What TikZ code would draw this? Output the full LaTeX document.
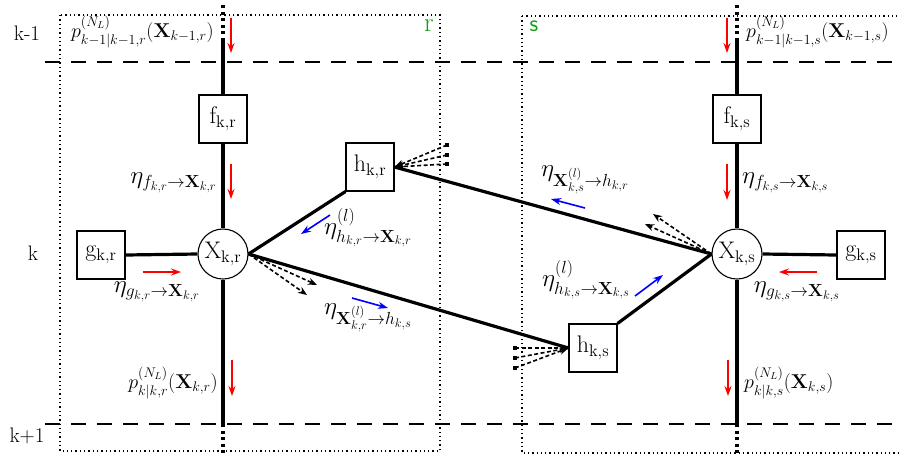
\RequirePackage{fix-cm}
\documentclass[tikz,border=0pt]{standalone}
\usepackage{amsmath}
\usetikzlibrary{arrows.meta}
\newcommand\mynodefont{\fontsize{24}{28}\selectfont}
\newcommand\myktextfont{\fontsize{21}{25}\selectfont}
\newcommand\mylblfont{\fontsize{20}{24}\selectfont}
\newcommand\myetafont{\fontsize{25}{29}\selectfont}
\definecolor{grn}{RGB}{20,160,20}
\begin{document}
\begin{tikzpicture}[x=1pt,y=-1pt,
  box/.style={draw,line width=1.1pt,fill=white,minimum size=48pt,inner sep=0pt,font=\mynodefont},
  var/.style={draw,circle,line width=1.1pt,fill=white,minimum size=50pt,inner sep=0pt,font=\mynodefont},
  thickline/.style={line width=3.2pt},
  dotext/.style={line width=3.2pt,dash pattern=on 3pt off 3.5pt},
  region/.style={line width=1.3pt,dash pattern=on 1.3pt off 3pt},
  timeline/.style={line width=1.3pt,dash pattern=on 15pt off 11pt},
  redarr/.style={red,line width=1.6pt,-{Stealth[length=10pt,width=7pt]}},
  bluearr/.style={blue,line width=1.6pt,-{Stealth[length=10pt,width=7pt]}},
  fan/.style={line width=1.6pt,dash pattern=on 4pt off 2.5pt,-{Stealth[length=9pt,width=7pt]}},
  lbl/.style={font=\mylblfont,inner sep=0pt},
  etalbl/.style={font=\myetafont,inner sep=0pt},
  ktext/.style={font=\myktextfont,inner sep=0pt}]
\useasboundingbox (0,0) rectangle (899,456);
% regions
\draw[region] (60,15) rectangle (440,451);
\draw[region] (522,16) -- (899,16);
\draw[region] (522,16) -- (522,453) -- (899,453);
\node[inner sep=0pt,text=grn,font=\fontsize{27}{30}\selectfont] (rlab) at (429,26) {r};
\node[inner sep=0pt,text=grn,font=\sffamily\fontsize{24}{28}\selectfont] (slab) at (534,26) {s};
% time lines
\draw[timeline] (45,62) -- (899,62);
\draw[timeline] (45,424) -- (899,424);
\node[ktext] (km1) at (27,33) {k-1};
\node[ktext] (kk) at (33,253) {k};
\node[ktext] (kp1) at (27,436) {k+1};
% nodes
\node[var] (Xr) at (223,254) {$\mathrm{X}_{\mathrm{k,r}}$};
\node[var] (Xs) at (737,254) {$\mathrm{X}_{\mathrm{k,s}}$};
\node[box] (fr) at (223,119) {$\mathrm{f}_{\mathrm{k,r}}$};
\node[box] (fs) at (737,119) {$\mathrm{f}_{\mathrm{k,s}}$};
\node[box] (gr) at (101,255) {$\mathrm{g}_{\mathrm{k,r}}$};
\node[box] (gs) at (861,255) {$\mathrm{g}_{\mathrm{k,s}}$};
\node[box] (hr) at (370,167) {$\mathrm{h}_{\mathrm{k,r}}$};
\node[box] (hs) at (593,348) {$\mathrm{h}_{\mathrm{k,s}}$};
% coordinates for vertical chains
\coordinate (trT) at (223,5);
\coordinate (trM) at (223,41);
\coordinate (trB) at (223,424);
\coordinate (trE) at (223,456);
\coordinate (tsT) at (737,5);
\coordinate (tsM) at (737,41);
\coordinate (tsB) at (737,424);
\coordinate (tsE) at (737,456);
\draw[dotext] (trT) -- (trM);
\draw[dotext] (trB) -- (trE);
\draw[dotext] (tsT) -- (tsM);
\draw[dotext] (tsB) -- (tsE);
\draw[thickline] (trM) -- (fr.north);
\draw[thickline] (fr.south) -- (Xr.north);
\draw[thickline] (Xr.south) -- (trB);
\draw[thickline] (tsM) -- (fs.north);
\draw[thickline] (fs.south) -- (Xs.north);
\draw[thickline] (Xs.south) -- (tsB);
\draw[thickline] (gr.east) -- (Xr.west);
\draw[thickline] (Xs.east) -- (gs.west);
\draw[thickline] (Xr.east) -- (hr.south west);
\draw[thickline] (Xr.east) -- (hs.west);
\draw[thickline] (Xs.west) -- (hr.east);
\draw[thickline] (Xs.west) -- (hs.north east);
% dashed fans
\coordinate (a1) at (317,285);
\coordinate (a2) at (307,295);
\draw[fan] (Xr.east) -- (a1);
\draw[fan] (Xr.east) -- (a2);
\coordinate (b1) at (653,214);
\coordinate (b2) at (645,224);
\draw[fan] (Xs.west) -- (b1);
\draw[fan] (Xs.west) -- (b2);
\coordinate (c1) at (447,145);
\coordinate (c2) at (447,155);
\coordinate (c3) at (447,164);
\draw[fan] (c1) -- (hr.east);
\draw[fan] (c2) -- (hr.east);
\draw[fan] (c3) -- (hr.east);
\coordinate (d1) at (515,348);
\coordinate (d2) at (515,358);
\coordinate (d3) at (515,368);
\draw[fan] (d1) -- (hs.west);
\draw[fan] (d2) -- (hs.west);
\draw[fan] (d3) -- (hs.west);
\foreach \p in {c1,c2,c3,d1,d2,d3}
  \fill (\p) +(-1.7,-1.7) rectangle +(1.7,1.7);
% red arrows
\coordinate (r1a) at (231,18); \coordinate (r1b) at (231,53);
\coordinate (r2a) at (231,164); \coordinate (r2b) at (231,199);
\coordinate (r3a) at (143,272); \coordinate (r3b) at (181,272);
\coordinate (r4a) at (232,360); \coordinate (r4b) at (232,396);
\coordinate (r5a) at (727,18); \coordinate (r5b) at (727,53);
\coordinate (r6a) at (727,164); \coordinate (r6b) at (727,200);
\coordinate (r7a) at (817,272); \coordinate (r7b) at (779,272);
\coordinate (r8a) at (728,360); \coordinate (r8b) at (728,396);
\foreach \u/\v in {r1a/r1b,r2a/r2b,r3a/r3b,r4a/r4b,r5a/r5b,r6a/r6b,r7a/r7b,r8a/r8b}
  \draw[redarr] (\u) -- (\v);
% blue arrows
\coordinate (u1a) at (330,215); \coordinate (u1b) at (301,234);
\coordinate (u2a) at (352,298); \coordinate (u2b) at (388,308);
\coordinate (u3a) at (585,208); \coordinate (u3b) at (551,199);
\coordinate (u4a) at (635,296); \coordinate (u4b) at (663,275);
\foreach \u/\v in {u1a/u1b,u2a/u2b,u3a/u3b,u4a/u4b}
  \draw[bluearr] (\u) -- (\v);
% labels
\node[lbl,anchor=east] (pr1) at (214,32) {$p^{(N_L)}_{k-1|k-1,r}(\mathbf{X}_{k-1,r})$};
\node[lbl,anchor=west] (ps1) at (746,32) {$p^{(N_L)}_{k-1|k-1,s}(\mathbf{X}_{k-1,s})$};
\node[etalbl,anchor=east] (efr) at (217,183) {$\eta_{f_{k,r}\to\mathbf{X}_{k,r}}$};
\node[etalbl,anchor=west] (efs) at (742,183) {$\eta_{f_{k,s}\to\mathbf{X}_{k,s}}$};
\node[etalbl] (egr) at (157,292) {$\eta_{g_{k,r}\to\mathbf{X}_{k,r}}$};
\node[etalbl] (egs) at (797,292) {$\eta_{g_{k,s}\to\mathbf{X}_{k,s}}$};
\node[etalbl] (ehr) at (368,228) {$\eta^{(l)}_{h_{k,r}\to\mathbf{X}_{k,r}}$};
\node[etalbl] (exr) at (368,318) {$\eta_{\mathbf{X}^{(l)}_{k,r}\to h_{k,s}}$};
\node[etalbl] (exs) at (585,180) {$\eta_{\mathbf{X}^{(l)}_{k,s}\to h_{k,r}}$};
\node[etalbl] (ehs) at (586,280) {$\eta^{(l)}_{h_{k,s}\to\mathbf{X}_{k,s}}$};
\node[lbl,anchor=east] (pr2) at (218,383) {$p^{(N_L)}_{k|k,r}(\mathbf{X}_{k,r})$};
\node[lbl,anchor=west] (ps2) at (744,383) {$p^{(N_L)}_{k|k,s}(\mathbf{X}_{k,s})$};
\end{tikzpicture}
\end{document}
